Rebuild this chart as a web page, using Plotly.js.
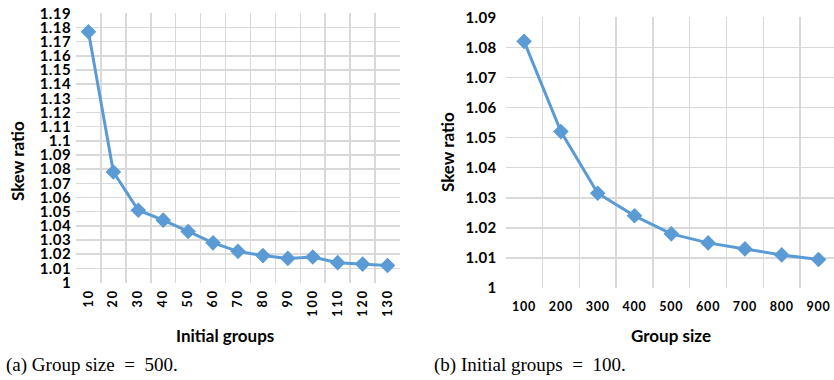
<!DOCTYPE html>
<html>
<head>
<meta charset="utf-8">
<script src="https://cdn.plot.ly/plotly-3.0.1.min.js"></script>
<style>
  html, body { margin: 0; padding: 0; background: #fff; }
  #chart { width: 834px; height: 380px; }
  .xtick text { letter-spacing: 2px; }
  .x2tick text { letter-spacing: 0.8px; }
  .ytick text, .y2tick text { letter-spacing: 0.4px; }
</style>
</head>
<body>
<div id="chart"></div>
<script>
// Left panel: (a) Group size = 500
const initialGroups = ['10','20','30','40','50','60','70','80','90','100','110','120','130'];
const skewByInitialGroups = [1.177, 1.078, 1.051, 1.044, 1.036, 1.028, 1.022, 1.019, 1.017, 1.018, 1.014, 1.013, 1.012];
const leftYTickVals = [1, 1.01, 1.02, 1.03, 1.04, 1.05, 1.06, 1.07, 1.08, 1.09, 1.1, 1.11, 1.12, 1.13, 1.14, 1.15, 1.16, 1.17, 1.18, 1.19];
const leftYTickText = ['1','1.01','1.02','1.03','1.04','1.05','1.06','1.07','1.08','1.09','1.1','1.11','1.12','1.13','1.14','1.15','1.16','1.17','1.18','1.19'];

// Right panel: (b) Initial groups = 100
const groupSizes = ['100','200','300','400','500','600','700','800','900'];
const skewByGroupSize = [1.082, 1.052, 1.0315, 1.024, 1.018, 1.015, 1.013, 1.011, 1.0095];
const rightYTickVals = [1, 1.01, 1.02, 1.03, 1.04, 1.05, 1.06, 1.07, 1.08, 1.09];
const rightYTickText = ['1','1.01','1.02','1.03','1.04','1.05','1.06','1.07','1.08','1.09'];

// Texts
const yTitle = 'Skew ratio';
const leftXTitle = 'Initial groups';
const rightXTitle = 'Group size';
const captionA = '(a) Group size\u2002=\u2002500.';
const captionB = '(b) Initial groups\u2002=\u2002100.';

const W = 834, H = 380;
const blue = '#5B9BD5';
const grid = '#d9d9d9';
const sansBold = 'Lato, "Open Sans", "DejaVu Sans", sans-serif';
const serif = '"Liberation Serif", "DejaVu Serif", serif';

function px(x) { return x / W; }
function py(y) { return (H - y) / H; }

const traceStyle = {
  mode: 'lines+markers',
  line: { color: blue, width: 3 },
  marker: { symbol: 'diamond', size: 12, color: blue },
  hoverinfo: 'x+y',
  showlegend: false
};

const data = [
  Object.assign({ x: initialGroups, y: skewByInitialGroups, xaxis: 'x', yaxis: 'y' }, traceStyle),
  Object.assign({ x: groupSizes, y: skewByGroupSize, xaxis: 'x2', yaxis: 'y2' }, traceStyle)
];

const yTickFont = { family: sansBold, size: 15, color: '#000', weight: 'bold' };
const titleFont = { family: sansBold, size: 17, color: '#000', weight: 'bold' };
const captionFont = { family: serif, size: 19, color: '#000' };

function ann(text, x, y, font, extra) {
  return Object.assign({ text: text, xref: 'paper', yref: 'paper', x: px(x), y: py(y),
    xanchor: 'center', yanchor: 'middle', showarrow: false, font: font }, extra || {});
}

const layout = {
  width: W, height: H,
  margin: { l: 0, r: 0, t: 0, b: 0 },
  paper_bgcolor: '#fff', plot_bgcolor: '#fff',
  font: { family: sansBold, color: '#000' },
  xaxis: {
    domain: [px(76), px(400)],
    anchor: 'y',
    type: 'category',
    range: [-0.5, 12.5],
    tickson: 'boundaries',
    showgrid: true, gridcolor: grid, gridwidth: 1.5,
    ticks: '', showline: false, zeroline: false,
    tickangle: -90,
    ticklabelstandoff: 3,
    tickfont: { family: sansBold, size: 12.5, color: '#000', weight: 'bold' },
    automargin: false,
    fixedrange: true
  },
  yaxis: {
    domain: [py(282.5), py(13.3)],
    anchor: 'x',
    range: [1, 1.19],
    tickmode: 'array', tickvals: leftYTickVals, ticktext: leftYTickText,
    showgrid: true, gridcolor: grid, gridwidth: 1.5,
    ticks: '', showline: false, zeroline: false,
    ticklabelstandoff: 4,
    tickfont: yTickFont,
    automargin: false,
    fixedrange: true
  },
  xaxis2: {
    domain: [px(505.7), 1],
    anchor: 'y2',
    type: 'category',
    range: [-0.5, 8.42],
    tickson: 'boundaries',
    showgrid: true, gridcolor: grid, gridwidth: 1.5,
    ticks: '', showline: false, zeroline: false,
    ticklabelstandoff: 9,
    tickfont: { family: sansBold, size: 12.5, color: '#000', weight: 'bold' },
    automargin: false,
    fixedrange: true
  },
  yaxis2: {
    domain: [py(288), py(17.3)],
    anchor: 'x2',
    range: [1, 1.09],
    tickmode: 'array', tickvals: rightYTickVals, ticktext: rightYTickText,
    showgrid: true, gridcolor: grid, gridwidth: 1.5,
    ticks: '', showline: false, zeroline: false,
    ticklabelstandoff: 8,
    tickfont: yTickFont,
    automargin: false,
    fixedrange: true
  },
  annotations: [
    ann(yTitle, 17, 161, titleFont, { textangle: -90 }),
    ann(leftXTitle, 225, 335, titleFont),
    ann(yTitle, 447, 152, titleFont, { textangle: -90 }),
    ann(rightXTitle, 671, 335, titleFont),
    ann(captionA, 4, 365, captionFont, { xanchor: 'left' }),
    ann(captionB, 432, 365, captionFont, { xanchor: 'left' })
  ]
};

Plotly.newPlot('chart', data, layout, { displayModeBar: false, staticPlot: true });
</script>
</body>
</html>
